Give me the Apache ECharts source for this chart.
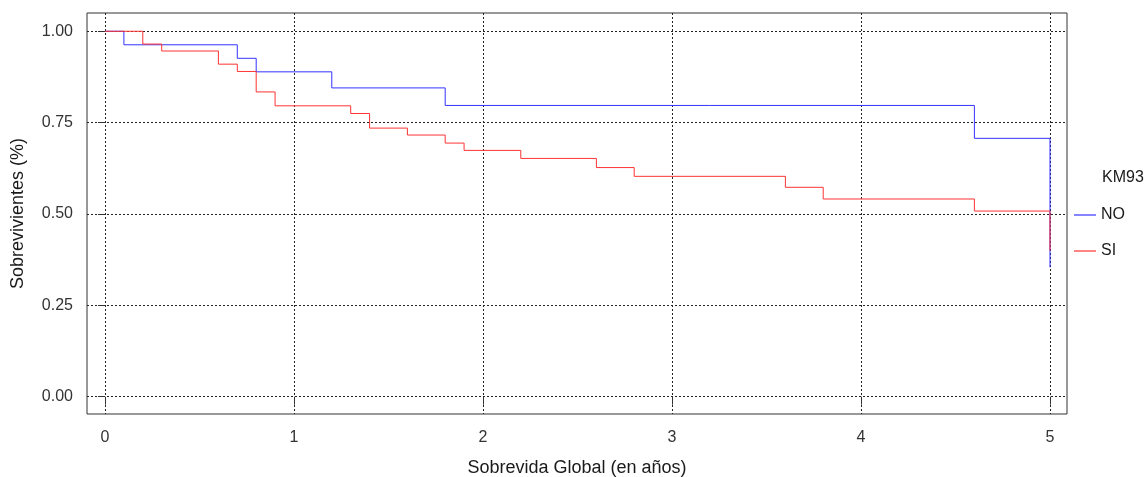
<!DOCTYPE html>
<html>
<head>
<meta charset="utf-8">
<script src="https://cdn.jsdelivr.net/npm/echarts@6/dist/echarts.min.js"></script>
<style>html,body{margin:0;padding:0;background:#fff;width:100%;height:100%;overflow:hidden}#c{width:1145px;height:477px}</style>
</head>
<body>
<div id="c"></div>
<script>
// Kaplan-Meier step data (time in years, survival proportion)
const noTimes = [0, 0.1, 0.7, 0.8, 1.2, 1.8, 4.6, 5.0];
const noSurv  = [1.0, 0.963, 0.926, 0.889, 0.845, 0.797, 0.707, 0.354];
const siTimes = [0, 0.2, 0.3, 0.6, 0.7, 0.8, 0.9, 1.3, 1.4, 1.6, 1.8, 1.9, 2.2, 2.6, 2.8, 3.6, 3.8, 4.6, 5.0];
const siSurv  = [1.0, 0.965, 0.946, 0.910, 0.890, 0.834, 0.796, 0.775, 0.735, 0.716, 0.694, 0.674, 0.652, 0.627, 0.603, 0.573, 0.541, 0.508, 0.400];
const xTicks = [0, 1, 2, 3, 4, 5];
const yTicks = [0, 0.25, 0.5, 0.75, 1.0];
const groups = ['NO', 'SI'];
const legendTitle = 'KM93';

const pair = (t, s) => t.map((v, i) => [v, s[i]]);
const font = 'Liberation Sans, Arial, sans-serif';
const chart = echarts.init(document.getElementById('c'), null, {renderer: 'canvas'});
chart.setOption({
  animation: false,
  backgroundColor: '#ffffff',
  title: {
    text: legendTitle, left: 1097, top: 165,
    textStyle: {fontFamily: font, fontSize: 16, fontWeight: 'normal', color: '#1a1a1a'}
  },
  legend: {
    data: groups, orient: 'vertical', left: 1069, top: 202,
    icon: 'rect', itemWidth: 22, itemHeight: 1.2, itemGap: 20,
    textStyle: {fontFamily: font, fontSize: 16, color: '#1a1a1a'}
  },
  grid: {
    left: 87, right: 78, top: 13, bottom: 63,
    outerBoundsMode: 'none',
    show: true, borderColor: '#333', borderWidth: 1, containLabel: false
  },
  xAxis: {
    type: 'value', min: -0.0952, max: 5.09,
    name: 'Sobrevida Global (en años)', nameLocation: 'middle', nameGap: 45,
    nameTextStyle: {fontFamily: font, fontSize: 18, color: '#1a1a1a'},
    axisLine: {show: false},
    axisTick: {show: true, length: 8, customValues: xTicks, lineStyle: {color: '#333'}},
    axisLabel: {customValues: xTicks, margin: 16, fontFamily: font, fontSize: 16, color: '#333',
      formatter: v => String(v)},
    splitLine: {show: true, lineStyle: {color: '#222', type: [2, 2], width: 1}}
  },
  yAxis: {
    type: 'value', min: -0.0474, max: 1.05,
    name: 'Sobrevivientes (%)', nameLocation: 'middle', nameGap: 60,
    nameTextStyle: {fontFamily: font, fontSize: 18, color: '#1a1a1a'},
    axisLine: {show: false},
    axisTick: {show: true, length: 7, customValues: yTicks, lineStyle: {color: '#333'}},
    axisLabel: {customValues: yTicks, margin: 14, fontFamily: font, fontSize: 16, color: '#333',
      formatter: v => v.toFixed(2)},
    splitLine: {show: true, lineStyle: {color: '#222', type: [2, 2], width: 1}}
  },
  series: [
    {name: groups[0], type: 'line', step: 'end', data: pair(noTimes, noSurv),
     showSymbol: false, symbol: 'none', color: '#3333ff', lineStyle: {width: 1, color: '#3333ff'}},
    {name: groups[1], type: 'line', step: 'end', data: pair(siTimes, siSurv),
     showSymbol: false, symbol: 'none', color: '#ff3333', lineStyle: {width: 1, color: '#ff3333'}}
  ]
});
</script>
</body>
</html>
